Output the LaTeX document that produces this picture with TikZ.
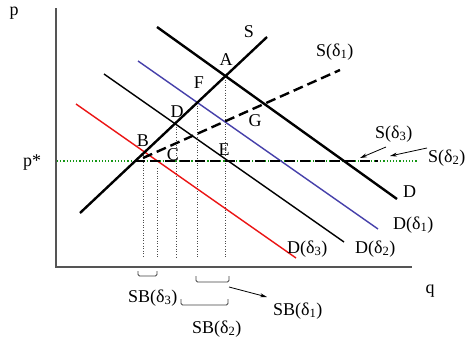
\documentclass[tikz,border=0pt]{standalone}
\usepackage{fontspec}
\setmainfont{Liberation Serif}
\usetikzlibrary{arrows.meta}
\definecolor{axisgray}{RGB}{85,85,85}
\definecolor{dblue}{RGB}{70,64,170}
\definecolor{dred}{RGB}{235,20,20}
\definecolor{pgreen}{RGB}{20,150,20}
\begin{document}
\begin{tikzpicture}[x=1pt,y=-1pt,
  lbl/.style={inner sep=0pt,font=\fontsize{18}{20}\selectfont},
  axisline/.style={draw=axisgray,line width=1.6pt},
  thickcurve/.style={draw=black,line width=2.4pt},
  thincurve/.style={line width=1.4pt},
  guide/.style={draw=black!70,line width=0.6pt,dotted},
  dashcurve/.style={draw=black,line width=2.4pt,dash pattern=on 10pt off 5pt},
  brace/.style={draw=black!75,line width=0.9pt,rounded corners=1.5pt},
  pointer/.style={draw=black,line width=0.8pt,-{Stealth[length=7pt,width=4pt]}}
]
\useasboundingbox (0,0) rectangle (465,343);

% coordinates
\coordinate (O) at (56,267);
\coordinate (ytop) at (56,8);
\coordinate (xend) at (412,267);
\coordinate (pl) at (57,161);
\coordinate (pr) at (417,161);
\coordinate (S0) at (80,213);
\coordinate (S1) at (267,37);
\coordinate (D0) at (157,27);
\coordinate (D1) at (397,199);
\coordinate (Da0) at (138,61);
\coordinate (Da1) at (378,229);
\coordinate (Db0) at (104,74);
\coordinate (Db1) at (344,242);
\coordinate (Dc0) at (76,104);
\coordinate (Dc1) at (296,258);
\coordinate (Sa0) at (143,158);
\coordinate (Sa1) at (340,70);
\coordinate (Sh0) at (135,161);
\coordinate (Sh1) at (378,161);
% intersection points
\coordinate (A) at (225,77);
\coordinate (F) at (197,103);
\coordinate (Dp) at (176,124);
\coordinate (B) at (143,152);
\coordinate (Cp) at (157,168);

% axes
\draw[axisline] (ytop) -- (O) -- (xend);
% p* level
\draw[draw=pgreen,line width=1.2pt,dotted] (pl) -- (pr);

% guides
\foreach \p in {A,F,Dp,B,Cp}{\draw[guide] (\p) -- (\p |- 0,257);}

% demand curves
\draw[thickcurve] (D0) -- (D1);
\draw[thincurve,draw=dblue] (Da0) -- (Da1);
\draw[thincurve,draw=black] (Db0) -- (Db1);
\draw[thincurve,draw=dred] (Dc0) -- (Dc1);
% supply curves
\draw[thickcurve] (S0) -- (S1);
\draw[dashcurve] (Sa0) -- (Sa1);
\draw[dashcurve] (Sh0) -- (Sh1);

% axis labels
\node[lbl,anchor=base] (lp) at (14,15) {p};
\node[lbl,anchor=base] (lq) at (430,293) {q};
\node[lbl,anchor=base] (lps) at (32,166) {p*};

% curve labels
\node[lbl,anchor=base] (lS) at (249,37) {S};
\node[lbl,anchor=base west] (lSa) at (316,56) {S(δ\textsubscript{1})};
\node[lbl,anchor=base west] (lSc) at (375,138) {S(δ\textsubscript{3})};
\node[lbl,anchor=base west] (lSb) at (428,162) {S(δ\textsubscript{2})};
\node[lbl,anchor=base west] (lD) at (403,197) {D};
\node[lbl,anchor=base west] (lDa) at (393,229) {D(δ\textsubscript{1})};
\node[lbl,anchor=base west] (lDb) at (355,253) {D(δ\textsubscript{2})};
\node[lbl,anchor=base west] (lDc) at (287,253) {D(δ\textsubscript{3})};

% point labels
\node[lbl,anchor=base] (tA) at (226,65.5) {A};
\node[lbl,anchor=base] (tF) at (199,88.5) {F};
\node[lbl,anchor=base] (tD) at (177,117) {D};
\node[lbl,anchor=base] (tG) at (255,126) {G};
\node[lbl,anchor=base] (tE) at (224,155) {E};
\node[lbl,anchor=base] (tB) at (143,146) {B};
\node[lbl,anchor=base] (tC) at (173,160.5) {C};

% pointers
\coordinate (aSc0) at (386,147);
\coordinate (aSc1) at (360,158);
\coordinate (aSb0) at (427,148);
\coordinate (aSb1) at (390,156);
\draw[pointer] (aSc0) -- (aSc1);
\draw[pointer] (aSb0) -- (aSb1);

% braces
\draw[brace] (138,271) -- (138,276) -- (157,276) -- (157,271);
\draw[brace] (196,276) -- (196,282) -- (229,282) -- (229,276);
\draw[brace] (181,299) -- (181,305) -- (228,305) -- (228,299);

\node[lbl,anchor=base west] (lSBc) at (128,302) {SB(δ\textsubscript{3})};
\node[lbl,anchor=base west] (lSBb) at (192,333) {SB(δ\textsubscript{2})};
\node[lbl,anchor=base west] (lSBa) at (273,315) {SB(δ\textsubscript{1})};
\coordinate (aSB0) at (229,287);
\coordinate (aSB1) at (267,297);
\draw[pointer] (aSB0) -- (aSB1);
\end{tikzpicture}
\end{document}
